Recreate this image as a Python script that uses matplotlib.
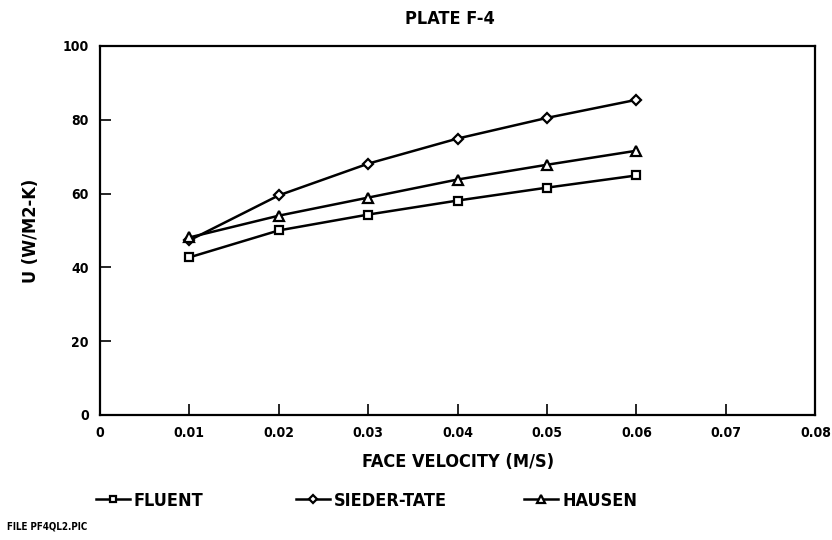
import numpy as np
import matplotlib
matplotlib.use('Agg')
import matplotlib.pyplot as plt

# face velocity (m/s) and overall heat transfer coefficient U (W/m2-K)
velocity = [0.01, 0.02, 0.03, 0.04, 0.05, 0.06]
fluent = [42.7, 50.0, 54.3, 58.1, 61.6, 64.9]
sieder_tate = [47.3, 59.5, 68.1, 74.9, 80.5, 85.4]
hausen = [48.1, 54.0, 58.9, 63.8, 67.8, 71.6]

x_ticks = [0, 0.01, 0.02, 0.03, 0.04, 0.05, 0.06, 0.07, 0.08]
x_labels = ['0', '0.01', '0.02', '0.03', '0.04', '0.05', '0.06', '0.07', '0.08']
y_ticks = [0, 20, 40, 60, 80, 100]

plt.rcParams['font.family'] = ['DejaVu Sans']
plt.rcParams['font.stretch'] = 'condensed'
plt.rcParams['font.weight'] = 'bold'
plt.rcParams['axes.labelweight'] = 'bold'

fig = plt.figure(figsize=(8.32, 5.40), dpi=100)
ax = fig.add_axes([0.120, 0.2315, 0.860, 0.6835])

style = dict(color='black', lw=1.8, mfc='white', mec='black', mew=1.6)
h1, = ax.plot(velocity, fluent, marker='s', ms=6, label='FLUENT', **style)
h2, = ax.plot(velocity, sieder_tate, marker='D', ms=5.5,
              label='SIEDER-TATE', **style)
h3, = ax.plot(velocity, hausen, marker='^', ms=7, label='HAUSEN', **style)

ax.set_xlim(0, 0.08)
ax.set_ylim(0, 100)
ax.set_xticks(x_ticks)
ax.set_xticklabels(x_labels)
ax.set_yticks(y_ticks)
ax.tick_params(direction='in', length=8, width=1.2, labelsize=10, pad=8)
for side in ax.spines.values():
    side.set_linewidth(1.6)

ax.set_xlabel('FACE VELOCITY (M/S)', fontsize=13, labelpad=9)
ax.set_ylabel('U (W/M2-K)', fontsize=13, labelpad=16)
fig.text(0.541, 0.965, 'PLATE F-4', ha='center', va='center', fontsize=13)

# one legend per series, spread along the bottom
for h, xpos in [(h1, 0.115), (h2, 0.356), (h3, 0.630)]:
    fig.legend(handles=[h], loc='center left', bbox_to_anchor=(xpos, 0.073),
               frameon=False, fontsize=13, handlelength=1.9,
               handletextpad=0.2, borderaxespad=0, borderpad=0,
               markerscale=0.8)

fig.text(0.008, 0.025, 'FILE PF4QL2.PIC', ha='left', va='center', fontsize=7)

fig.savefig('out.png', dpi=100)
